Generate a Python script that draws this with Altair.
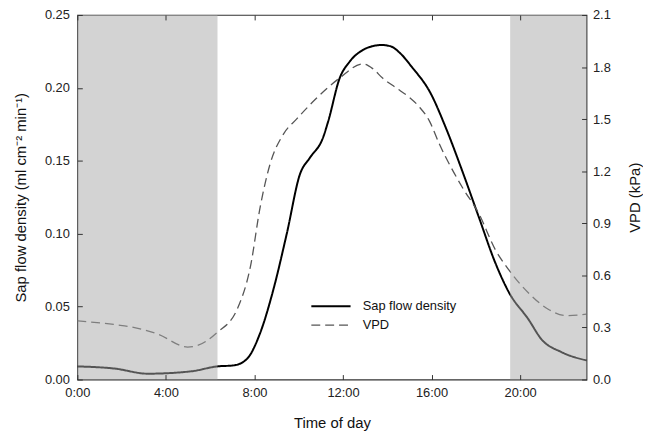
import altair as alt
import pandas as pd

# ---------------- data ----------------
sap_hours = [0, 1.69, 3.18, 5.13, 6.32, 7.07, 7.67, 8.26, 8.86, 9.46, 10.06, 10.5, 11.1,
             11.33, 11.85, 12.3, 12.9, 13.3, 13.75, 14.15, 14.6, 15.1, 15.95, 16.64, 17.38,
             18.13, 18.88, 19.5, 20.37, 20.97, 21.87, 23.0]
sap_values = [0.009, 0.0075, 0.004, 0.0056, 0.009, 0.0097, 0.0143, 0.032, 0.062, 0.100,
              0.141, 0.152, 0.166, 0.177, 0.2067, 0.218, 0.226, 0.2285, 0.2294, 0.2285,
              0.2235, 0.2145, 0.1965, 0.1728, 0.1433, 0.1116, 0.080, 0.0596, 0.0414,
              0.0275, 0.0188, 0.0131]

vpd_hours = [0, 1.84, 2.29, 3.63, 4.98, 5.43, 6.32, 7.22, 7.82, 8.26, 8.71, 9.31, 9.9,
             10.8, 11.85, 12.9, 13.35, 13.8, 14.4, 15.0, 15.45, 15.9, 16.34, 17.38, 18.13,
             18.88, 19.5, 20.37, 21.27, 22.1, 23.0]
vpd_values = [0.338, 0.314, 0.306, 0.262, 0.187, 0.196, 0.272, 0.405, 0.652, 0.995, 1.243,
              1.414, 1.50, 1.62, 1.737, 1.818, 1.79, 1.735, 1.68, 1.625, 1.57, 1.49, 1.36,
              1.109, 0.957, 0.748, 0.63, 0.50, 0.405, 0.368, 0.377]

night_start = [0.0, 19.55]
night_end = [6.33, 23.0]

series_names = ["Sap flow density", "VPD"]
x_ticks = [0, 4, 8, 12, 16, 20]
sap_ticks = [0.0, 0.05, 0.10, 0.15, 0.20, 0.25]
vpd_ticks = [0.0, 0.3, 0.6, 0.9, 1.2, 1.5, 1.8, 2.1]

sap_df = pd.DataFrame({"hour": sap_hours, "value": sap_values, "series": series_names[0]})
vpd_df = pd.DataFrame({"hour": vpd_hours, "value": vpd_values, "series": series_names[1]})
night_df = pd.DataFrame({"start": night_start, "end": night_end})

FONT = "Liberation Sans"
AX = "#333333"

xscale = alt.Scale(domain=[0, 23], nice=False, zero=False)
color_scale = alt.Scale(domain=series_names, range=["#000000", "#555555"])
dash_scale = alt.Scale(domain=series_names, range=[[1, 0], [9, 5]])
width_scale = alt.Scale(domain=series_names, range=[2.0, 1.3])

legend = alt.Legend(title=None, orient="none", legendX=246, legendY=284,
                    symbolType="M-2.2,0H2.2", symbolSize=324, labelFontSize=13,
                    labelFont=FONT, labelColor="#111", labelOffset=22,
                    rowPadding=2, padding=0)

common_axis = dict(domain=False, grid=False, tickSize=5, offset=-5, tickColor=AX,
                   tickWidth=1, labelFont=FONT, labelFontSize=13, labelColor="#222",
                   titleFont=FONT, titleFontSize=15, titleFontWeight="normal",
                   titleColor="#111", zindex=2, labelFlush=False, labelOverlap=False)

x_bottom = alt.Axis(orient="bottom", values=x_ticks, labelExpr="datum.value + ':00'",
                    labelPadding=7, title="Time of day", titlePadding=16, **common_axis)
x_top = alt.Axis(orient="top", values=x_ticks, labels=False, title=None, **common_axis)

y_left = alt.Axis(orient="left", values=sap_ticks, format=".2f", labelPadding=8,
                  title="Sap flow density (ml cm⁻² min⁻¹)", titlePadding=16, **common_axis)
y_right = alt.Axis(orient="right", values=vpd_ticks, format=".1f", labelPadding=6,
                   title="VPD (kPa)", titlePadding=32, titleAngle=270, **common_axis)

sap_line = alt.Chart(sap_df).mark_line(interpolate="monotone").encode(
    x=alt.X("hour:Q", scale=xscale, axis=x_bottom),
    y=alt.Y("value:Q", scale=alt.Scale(domain=[0, 0.25], nice=False), axis=y_left),
    color=alt.Color("series:N", scale=color_scale, legend=legend),
    strokeDash=alt.StrokeDash("series:N", scale=dash_scale, legend=legend),
    strokeWidth=alt.StrokeWidth("series:N", scale=width_scale, legend=legend),
)

vpd_line = alt.Chart(vpd_df).mark_line(interpolate="monotone").encode(
    x=alt.X("hour:Q", scale=xscale, axis=x_top),
    y=alt.Y("value:Q", scale=alt.Scale(domain=[0, 2.1], nice=False), axis=y_right),
    color=alt.Color("series:N", scale=color_scale, legend=legend),
    strokeDash=alt.StrokeDash("series:N", scale=dash_scale, legend=legend),
    strokeWidth=alt.StrokeWidth("series:N", scale=width_scale, legend=legend),
)

night = alt.Chart(night_df).mark_rect(color="#a8a8a8", opacity=0.5).encode(
    x=alt.X("start:Q", scale=xscale, axis=None),
    x2="end:Q",
)

chart = alt.layer(sap_line, vpd_line, night).resolve_scale(
    y="independent"
).resolve_axis(x="independent").properties(
    width=514, height=368,
    autosize=alt.AutoSizeParams(type="none"),
    padding={"left": 70, "top": 5, "right": 57, "bottom": 58},
).configure_view(stroke=AX, strokeWidth=1.2)

chart.save("out.html", embed_options={"renderer": "svg", "actions": False})
